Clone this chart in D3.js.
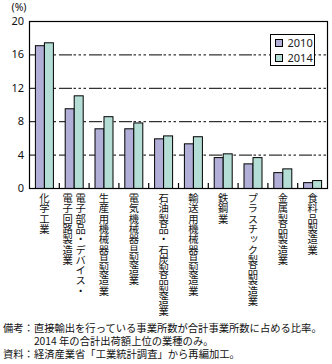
<!DOCTYPE html>
<html><head><meta charset="utf-8">
<script src="https://cdn.jsdelivr.net/npm/d3@7"></script>
<style>
html,body{margin:0;padding:0;background:#fff;}
svg{display:block;}
.jp{font-family:"Noto Sans CJK JP","Noto Sans",sans-serif;}
.vt{writing-mode:vertical-rl;text-orientation:upright;}
</style></head>
<body>
<svg id="c" width="332" height="364"></svg>
<script>
const categories = [
  ["化学工業"],
  ["電子部品・デバイス・","電子回路製造業"],
  ["生産用機械器具製造業"],
  ["電気機械器具製造業"],
  ["石油製品・石炭製品製造業"],
  ["輸送用機械器具製造業"],
  ["鉄鋼業"],
  ["プラスチック製品製造業"],
  ["金属製品製造業"],
  ["食料品製造業"]
];
const series = ["2010","2014"];
const v2010 = [17.1, 9.55, 7.15, 7.15, 5.95, 5.35, 3.7, 2.95, 1.9, 0.7];
const v2014 = [17.45, 11.1, 8.6, 7.85, 6.3, 6.2, 4.15, 3.7, 2.35, 0.95];
const yTicks = [0,4,8,12,16,20];
const colors = ["#b1afd8","#b4ddd5"];
const unitLabel = "(%)";
const notes = [
  "備考：直接輸出を行っている事業所数が合計事業所数に占める比率。",
  "　　　2014 年の合計出荷額上位の業種のみ。",
  "資料：経済産業省「工業統計調査」から再編加工。"
];

const svg = d3.select("#c");
const L=29, R=327, T=21, B=188;
const y = d3.scaleLinear().domain([0,20]).range([B,T]);
const x0 = d3.scaleBand().domain(d3.range(categories.length)).range([L,R]).paddingInner(0.396).paddingOuter(0.198);
const x1 = d3.scaleBand().domain(series).range([0,x0.bandwidth()]);
const step = x0.step();

// gridlines
svg.append("g").selectAll("line").data(yTicks.filter(t=>t>0&&t<20)).join("line")
  .attr("x1",L).attr("x2",R).attr("y1",d=>y(d)+0.5).attr("y2",d=>y(d)+0.5)
  .attr("stroke","#000").attr("stroke-width",1)
  .attr("stroke-dasharray","13,1.5,2.5,2.5,2.5,2.5,2.5,3");

// bars
const data = categories.map((c,i)=>({i, vals:[v2010[i], v2014[i]]}));
const g = svg.append("g").selectAll("g").data(data).join("g")
  .attr("transform",d=>`translate(${x0(d.i)},0)`);
g.selectAll("rect").data(d=>d.vals.map((v,k)=>({v,k}))).join("rect")
  .attr("x",d=>x1(series[d.k])+0.5).attr("width",x1.bandwidth())
  .attr("y",d=>y(d.v)+0.5).attr("height",d=>B-y(d.v))
  .attr("fill",d=>colors[d.k]).attr("stroke","#000").attr("stroke-width",1);

// frame
svg.append("rect").attr("x",L+0.5).attr("y",T+0.5).attr("width",R-L).attr("height",B-T)
  .attr("fill","none").attr("stroke","#000").attr("stroke-width",1.2);

// x ticks inward
svg.append("g").selectAll("line").data(d3.range(1,categories.length)).join("line")
  .attr("x1",d=>L+d*step+0.5).attr("x2",d=>L+d*step+0.5)
  .attr("y1",B).attr("y2",B-5).attr("stroke","#000").attr("stroke-width",1.2);

// y axis labels
svg.append("g").selectAll("text").data(yTicks).join("text")
  .attr("x",L-5).attr("y",d=>y(d)+4).attr("text-anchor","end")
  .attr("font-family","Noto Sans, sans-serif").attr("font-size",11).attr("fill","#111")
  .text(d=>d);
svg.append("text").attr("x",19).attr("y",10.5).attr("text-anchor","middle")
  .attr("font-family","Noto Sans, sans-serif").attr("font-size",10.5).attr("fill","#111").text(unitLabel);

// category labels (vertical)
categories.forEach((lines,i)=>{
  const cx = x0(i)+x0.bandwidth()/2 + 0.5;
  const n = lines.length;
  lines.forEach((t,j)=>{
    const off = (n-1)*6.5 - j*13;
    svg.append("text").attr("class","jp vt")
      .attr("x",cx+off).attr("y",193)
      .attr("font-size",10.3).attr("fill","#111").text(t);
  });
});

// legend
const lg = svg.append("g").attr("transform","translate(270.5,34.5)");
lg.append("rect").attr("width",44).attr("height",31).attr("fill","#fff").attr("stroke","#000").attr("stroke-width",1);
series.forEach((s,k)=>{
  lg.append("rect").attr("x",5).attr("y",5+k*15).attr("width",7).attr("height",7)
    .attr("fill",colors[k]).attr("stroke","#000").attr("stroke-width",1);
  lg.append("text").attr("x",17).attr("y",12.5+k*15).attr("font-family","Noto Sans, sans-serif")
    .attr("font-size",11).attr("fill","#222").text(s);
});

// notes
notes.forEach((t,i)=>{
  svg.append("text").attr("class","jp").attr("x",3).attr("y",332+i*13)
    .attr("font-size",10.3).attr("fill","#111").attr("xml:space","preserve").text(t);
});
</script>
</body></html>
